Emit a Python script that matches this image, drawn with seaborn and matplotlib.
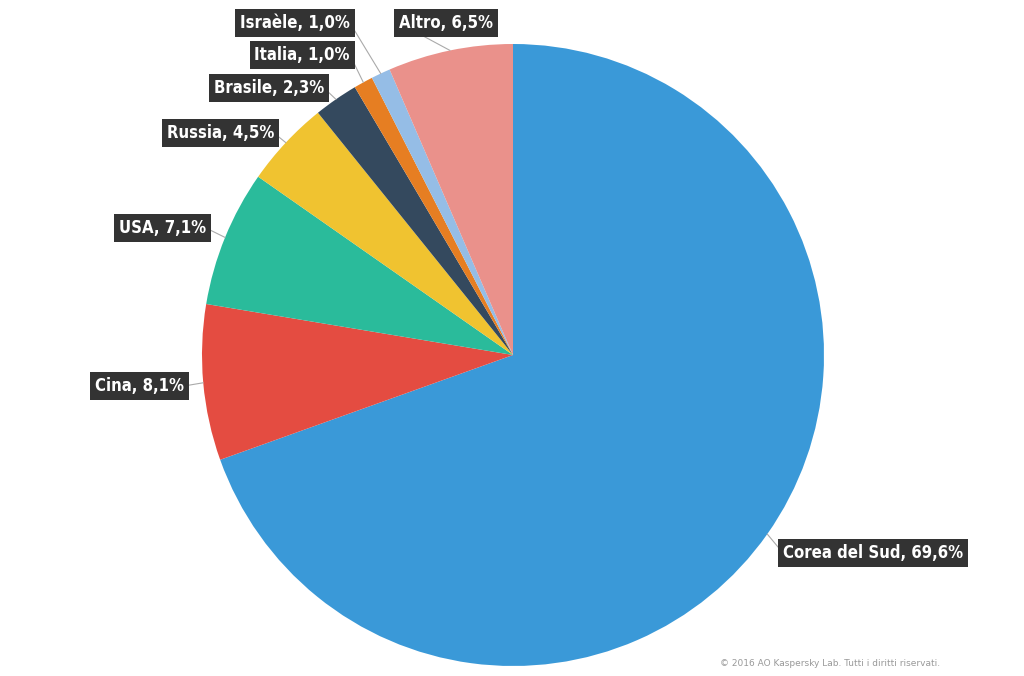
import matplotlib
matplotlib.use('Agg')
import matplotlib.pyplot as plt
import seaborn as sns
import numpy as np

sns.set_style('white')
plt.rcParams['font.family'] = ['DejaVu Sans']

countries = ['Corea del Sud', 'Cina', 'USA', 'Russia', 'Brasile', 'Italia', 'Israèle', 'Altro']
shares = [69.6, 8.1, 7.1, 4.5, 2.3, 1.0, 1.0, 6.5]
colors = ['#3a99d8', '#e44c41', '#2abb9b', '#f0c330', '#34495e', '#e67e22', '#95bde6', '#ea918b']

# label box anchor (pixel coords from top-left), alignment
label_pos = [(783, 553, 'left'), (184, 386, 'right'), (206, 228, 'right'),
             (274, 133, 'right'), (324, 88, 'right'), (350, 55, 'right'),
             (350, 23, 'right'), (399, 23, 'left')]

W, H = 1024, 676
cx, cy, r = 513, H - 355, 311

fig = plt.figure(figsize=(10.24, 6.76), dpi=100)
ax = fig.add_axes([0, 0, 1, 1])

wedges, _ = ax.pie(shares, colors=colors, startangle=90, counterclock=False,
                   center=(cx, cy), radius=r, frame=True,
                   wedgeprops=dict(linewidth=0))
ax.set_xlim(0, W)
ax.set_ylim(0, H)
ax.set_aspect('equal')
ax.axis('off')

for w, name, val, (lx, ly, ha) in zip(wedges, countries, shares, label_pos):
    ang = np.deg2rad((w.theta1 + w.theta2) / 2)
    ex, ey = cx + r * np.cos(ang), cy + r * np.sin(ang)
    ty = H - ly
    txt = f'{name}, {val:.1f}%'.replace('.', ',')
    ax.plot([ex, lx], [ey, ty], color='#aaaaaa', lw=0.8, zorder=1)
    ax.text(lx, ty, txt, ha=ha, va='center', color='white', fontsize=12,
            fontweight='bold', fontstretch='condensed', zorder=3,
            bbox=dict(boxstyle='square,pad=0.3', fc='#333333', ec='none'))

ax.text(940, 13, '© 2016 AO Kaspersky Lab. Tutti i diritti riservati.', ha='right',
        va='center', fontsize=6.5, color='#999999')

fig.savefig('out.png', dpi=100)
